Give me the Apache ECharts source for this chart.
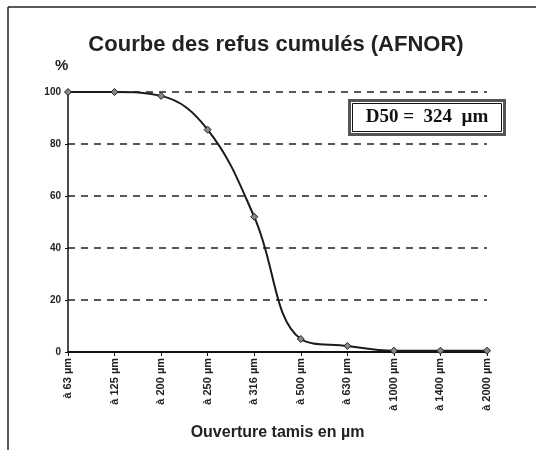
<!DOCTYPE html>
<html>
<head>
<meta charset="utf-8">
<script src="https://cdn.jsdelivr.net/npm/echarts@6/dist/echarts.min.js"></script>
<style>
  html, body { margin: 0; padding: 0; background: #fff; }
  #chart { width: 536px; height: 450px; }
</style>
</head>
<body>
<div id="chart"></div>
<script>
// tamis (sieve openings) and cumulative refusal in %
var sieves = ['à 63 µm', 'à 125 µm', 'à 200 µm', 'à 250 µm', 'à 316 µm', 'à 500 µm', 'à 630 µm', 'à 1000 µm', 'à 1400 µm', 'à 2000 µm'];
var refus = [100, 100, 98.5, 85.5, 52, 5, 2.3, 0.5, 0.5, 0.5];
var yTicks = [0, 20, 40, 60, 80, 100];
var d50Label = 'D50 =  324  µm';

var myChart = echarts.init(document.getElementById('chart'));

var option = {
    animation: false,
    backgroundColor: '#fff',
    grid: {
        left: 68,
        right: 49,
        top: 92,
        bottom: 98
    },
    xAxis: {
        type: 'category',
        boundaryGap: false,
        data: sieves,
        name: 'Ouverture tamis en µm',
        nameLocation: 'middle',
        nameGap: 73,
        nameTextStyle: {
            fontFamily: 'Liberation Sans, Arial, sans-serif',
            fontSize: 16,
            fontWeight: 'bold',
            color: '#222'
        },
        axisLine: { lineStyle: { color: '#111', width: 2 } },
        axisTick: { show: true, length: 4, lineStyle: { color: '#111' } },
        axisLabel: {
            rotate: 90,
            margin: 6,
            fontFamily: 'Liberation Sans, Arial, sans-serif',
            fontSize: 11,
            fontWeight: 'bold',
            color: '#222'
        },
        splitLine: { show: false }
    },
    yAxis: {
        type: 'value',
        min: yTicks[0],
        max: yTicks[yTicks.length - 1],
        interval: 20,
        axisLine: { show: true, lineStyle: { color: '#111', width: 1.5 } },
        axisTick: { show: true, length: 3, lineStyle: { color: '#111' } },
        axisLabel: {
            margin: 7,
            fontFamily: 'Liberation Sans, Arial, sans-serif',
            fontSize: 10,
            fontWeight: 'bold',
            color: '#222'
        },
        splitLine: {
            show: true,
            lineStyle: { color: '#222', width: 1.5, type: [7, 6] }
        }
    },
    series: [
        {
            type: 'line',
            data: refus,
            smooth: 0.4,
            symbol: 'diamond',
            symbolSize: 7,
            lineStyle: { color: '#1a1a1a', width: 2 },
            itemStyle: { color: '#888', borderColor: '#222', borderWidth: 1 },
            z: 5
        }
    ],
    graphic: [
        // scanned page frame (top and left edges)
        { type: 'line', shape: { x1: 8, y1: 7, x2: 536, y2: 7 }, style: { stroke: '#222', lineWidth: 1.5 } },
        { type: 'line', shape: { x1: 8, y1: 7, x2: 8, y2: 450 }, style: { stroke: '#222', lineWidth: 1.5 } },
        {
            type: 'text',
            x: 276,
            y: 45,
            style: {
                text: 'Courbe des refus cumulés (AFNOR)',
                font: 'bold 22px "Liberation Sans", Arial, sans-serif',
                fill: '#222',
                align: 'center',
                verticalAlign: 'middle'
            }
        },
        {
            type: 'text',
            left: 55,
            top: 58,
            style: {
                text: '%',
                font: 'bold 15px "Liberation Sans", Arial, sans-serif',
                fill: '#222'
            }
        },
        {
            type: 'group',
            left: 348,
            top: 99,
            children: [
                { type: 'rect', shape: { x: 0, y: 0, width: 155, height: 34 }, style: { fill: '#fff', stroke: '#555', lineWidth: 3 } },
                { type: 'rect', shape: { x: 3, y: 3, width: 149, height: 28 }, style: { fill: 'none', stroke: '#111', lineWidth: 1 } },
                {
                    type: 'text',
                    x: 77.5,
                    y: 17,
                    style: {
                        text: d50Label,
                        font: 'bold 19px "Liberation Serif", "Times New Roman", serif',
                        fill: '#111',
                        align: 'center',
                        verticalAlign: 'middle'
                    }
                }
            ]
        }
    ]
};

myChart.setOption(option);
</script>
</body>
</html>
